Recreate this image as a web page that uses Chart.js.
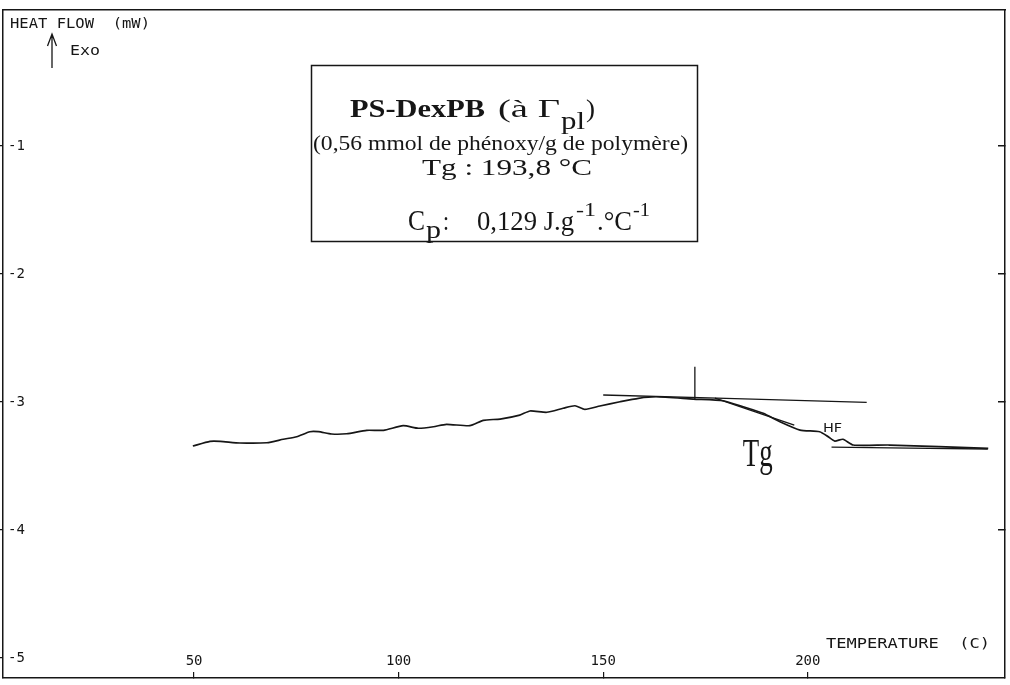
<!DOCTYPE html>
<html>
<head>
<meta charset="utf-8">
<script src="https://cdn.jsdelivr.net/npm/chart.js@4.4.0/dist/chart.umd.min.js"></script>
<style>
    html, body { margin: 0; padding: 0; background: #ffffff; }
    #dsc { display: block; }
</style>
</head>
<body>
<canvas id="dsc" width="1010" height="685"></canvas>
<script>
// DSC trace - PS-DexPB, heat flow vs temperature

// Main trace (temperature in C, heat flow in mW)
const curveTemp = [49.7, 53.9, 56.4, 61.2, 67.8, 71.8, 75.1, 78.3, 80.4, 83.6,
    87.3, 92.2, 96.3, 101.1, 104.8, 108.5, 111.7, 117.4, 120.7, 124.8,
    129.6, 132.1, 136.2, 140.2, 143.1, 145.5, 149.2, 154.1, 158.6, 163.0,
    172.0, 179.3, 184.2, 189.1, 193.2, 198.1, 202.9, 205.0, 206.6, 208.6,
    211.1, 220.0, 244.1];
const curveHeatFlow = [-3.344, -3.307, -3.307, -3.320, -3.318, -3.291, -3.271, -3.232, -3.232, -3.250,
    -3.248, -3.221, -3.221, -3.185, -3.205, -3.193, -3.174, -3.185, -3.143, -3.133,
    -3.102, -3.070, -3.080, -3.049, -3.029, -3.057, -3.031, -2.998, -2.971, -2.959,
    -2.977, -2.990, -3.037, -3.088, -3.154, -3.219, -3.232, -3.271, -3.305, -3.291,
    -3.336, -3.336, -3.362];

// Construction lines used to read Tg
const onsetTangentTemp = [150.0, 214.4];
const onsetTangentHF = [-2.945, -3.002];
const tgMarkerTemp = [172.4, 172.4];
const tgMarkerHF = [-2.724, -2.977];
const slopeTangentTemp = [177.3, 196.7];
const slopeTangentHF = [-2.969, -3.180];
const endBaselineTemp = [205.8, 244.0];
const endBaselineHF = [-3.353, -3.367];

// Axes
const xTickValues = [50, 100, 150, 200];
const yTickValues = [-1, -2, -3, -4, -5];
const yRightTickValues = [-1, -2, -3, -4];
const tempRange = [3.3, 248.2];
const heatFlowRange = [-5.156, 0.0625];

const INK = '#161616';
const plotterFont = 'DejaVu Sans Mono';
const serifFont = 'Liberation Serif';

function toPoints(xs, ys) {
    return xs.map((x, i) => ({ x: x, y: ys[i] }));
}

function traceDataset(label, xs, ys, width) {
    return {
        label: label,
        data: toPoints(xs, ys),
        showLine: true,
        borderColor: INK,
        borderWidth: width,
        pointRadius: 0,
        fill: false,
        tension: 0.2
    };
}

function zeroPadding(axis) {
    axis.paddingTop = 0;
    axis.paddingBottom = 0;
    axis.paddingLeft = 0;
    axis.paddingRight = 0;
}

// Draw text squeezed/stretched between x0 and x1 (the scan is wider than the fonts)
function fitText(ctx, text, font, x0, x1, baseline) {
    ctx.save();
    ctx.font = font;
    const w = ctx.measureText(text).width;
    ctx.translate(x0, baseline);
    ctx.scale((x1 - x0) / w, 1);
    ctx.textBaseline = 'alphabetic';
    ctx.textAlign = 'left';
    ctx.fillText(text, 0, 0);
    ctx.restore();
}

const annotations = {
    id: 'annotations',
    afterDraw(chart) {
        const ctx = chart.ctx;
        const xs = chart.scales.x;
        const ys = chart.scales.y;
        ctx.save();
        ctx.fillStyle = INK;
        ctx.strokeStyle = INK;

        // Axis titles
        fitText(ctx, 'HEAT FLOW  (mW)', '14px "' + plotterFont + '"', 10, 150, 28);
        fitText(ctx, 'Exo', '14px "' + plotterFont + '"', 70, 100, 55);
        fitText(ctx, 'TEMPERATURE  (C)', '14px "' + plotterFont + '"', 826, 990, 648);

        // Exo arrow
        ctx.lineWidth = 1.3;
        ctx.beginPath();
        ctx.moveTo(52, 68);
        ctx.lineTo(52, 34);
        ctx.moveTo(47.5, 46);
        ctx.lineTo(52, 34);
        ctx.lineTo(56.5, 46);
        ctx.stroke();

        // Hand-written labels on the trace
        fitText(ctx, 'HF', '13px "DejaVu Sans"', xs.getPixelForValue(203.7), xs.getPixelForValue(208.4), ys.getPixelForValue(-3.234));
        fitText(ctx, 'Tg', '40px "' + serifFont + '"', xs.getPixelForValue(136.6 + 47.5), xs.getPixelForValue(191.4), ys.getPixelForValue(-3.50));

        // Sample box
        ctx.lineWidth = 1.5;
        ctx.strokeRect(311.5, 65.5, 386, 176);

        fitText(ctx, 'PS-DexPB', 'bold 25px "' + serifFont + '"', 350, 485, 117);
        fitText(ctx, '(à Γ', '25px "' + serifFont + '"', 498, 560, 117);
        fitText(ctx, 'pl', '25px "' + serifFont + '"', 561, 585, 129);
        fitText(ctx, ')', '25px "' + serifFont + '"', 586, 595, 117);

        fitText(ctx, '(0,56 mmol de phénoxy/g de polymère)', '20px "' + serifFont + '"', 313, 688, 150);
        fitText(ctx, 'Tg : 193,8 °C', '23px "' + serifFont + '"', 422, 592, 175);

        fitText(ctx, 'C', '30px "' + serifFont + '"', 408, 425, 230);
        fitText(ctx, 'p', '26px "' + serifFont + '"', 426, 441, 238);
        fitText(ctx, ':', '28px "' + serifFont + '"', 443, 449, 230);
        fitText(ctx, '0,129 J.g', '28px "' + serifFont + '"', 477, 574, 230);
        fitText(ctx, '-1', '19px "' + serifFont + '"', 576, 596, 216);
        fitText(ctx, '.°C', '28px "' + serifFont + '"', 597, 632, 230);
        fitText(ctx, '-1', '19px "' + serifFont + '"', 633, 650, 216);

        ctx.restore();
    }
};

const ctx = document.getElementById('dsc');

const chart = new Chart(ctx, {
    type: 'scatter',
    data: {
        datasets: [
            traceDataset('Heat flow', curveTemp, curveHeatFlow, 1.7),
            traceDataset('Onset tangent', onsetTangentTemp, onsetTangentHF, 1.3),
            traceDataset('Tg marker', tgMarkerTemp, tgMarkerHF, 1.3),
            traceDataset('Slope tangent', slopeTangentTemp, slopeTangentHF, 1.3),
            traceDataset('End baseline', endBaselineTemp, endBaselineHF, 1.3)
        ]
    },
    options: {
        responsive: false,
        animation: false,
        layout: {
            padding: { top: 10, right: 5, bottom: 0, left: 0 }
        },
        plugins: {
            legend: { display: false },
            tooltip: { enabled: false }
        },
        scales: {
            x: {
                type: 'linear',
                position: 'bottom',
                min: tempRange[0],
                max: tempRange[1],
                afterBuildTicks: axis => { axis.ticks = xTickValues.map(v => ({ value: v })); },
                afterFit: axis => { axis.height = 7; zeroPadding(axis); },
                ticks: {
                    mirror: true,
                    padding: 8,
                    autoSkip: false,
                    maxRotation: 0,
                    color: INK,
                    font: { family: plotterFont, size: 14 }
                },
                grid: { drawOnChartArea: false, drawTicks: true, tickLength: -6, color: INK, lineWidth: 1.2 },
                border: { display: true, color: INK, width: 1.5 }
            },
            xTop: {
                type: 'linear',
                position: 'top',
                min: tempRange[0],
                max: tempRange[1],
                afterFit: axis => { axis.height = 0; zeroPadding(axis); },
                ticks: { display: false },
                grid: { display: false },
                border: { display: true, color: INK, width: 1.5 }
            },
            y: {
                type: 'linear',
                position: 'left',
                min: heatFlowRange[0],
                max: heatFlowRange[1],
                afterBuildTicks: axis => { axis.ticks = yTickValues.map(v => ({ value: v })); },
                afterFit: axis => { axis.width = 3; zeroPadding(axis); },
                ticks: {
                    mirror: true,
                    padding: 5,
                    color: INK,
                    font: { family: plotterFont, size: 14 }
                },
                grid: { drawOnChartArea: false, drawTicks: true, tickLength: 4, color: INK, lineWidth: 1.2 },
                border: { display: true, color: INK, width: 1.5 }
            },
            yRight: {
                type: 'linear',
                position: 'right',
                min: heatFlowRange[0],
                max: heatFlowRange[1],
                afterBuildTicks: axis => { axis.ticks = yRightTickValues.map(v => ({ value: v })); },
                afterFit: axis => { axis.width = 0; zeroPadding(axis); },
                ticks: { display: false },
                grid: { drawOnChartArea: false, drawTicks: true, tickLength: -7, color: INK, lineWidth: 1.5 },
                border: { display: true, color: INK, width: 1.5 }
            }
        }
    },
    plugins: [annotations]
});
</script>
</body>
</html>
